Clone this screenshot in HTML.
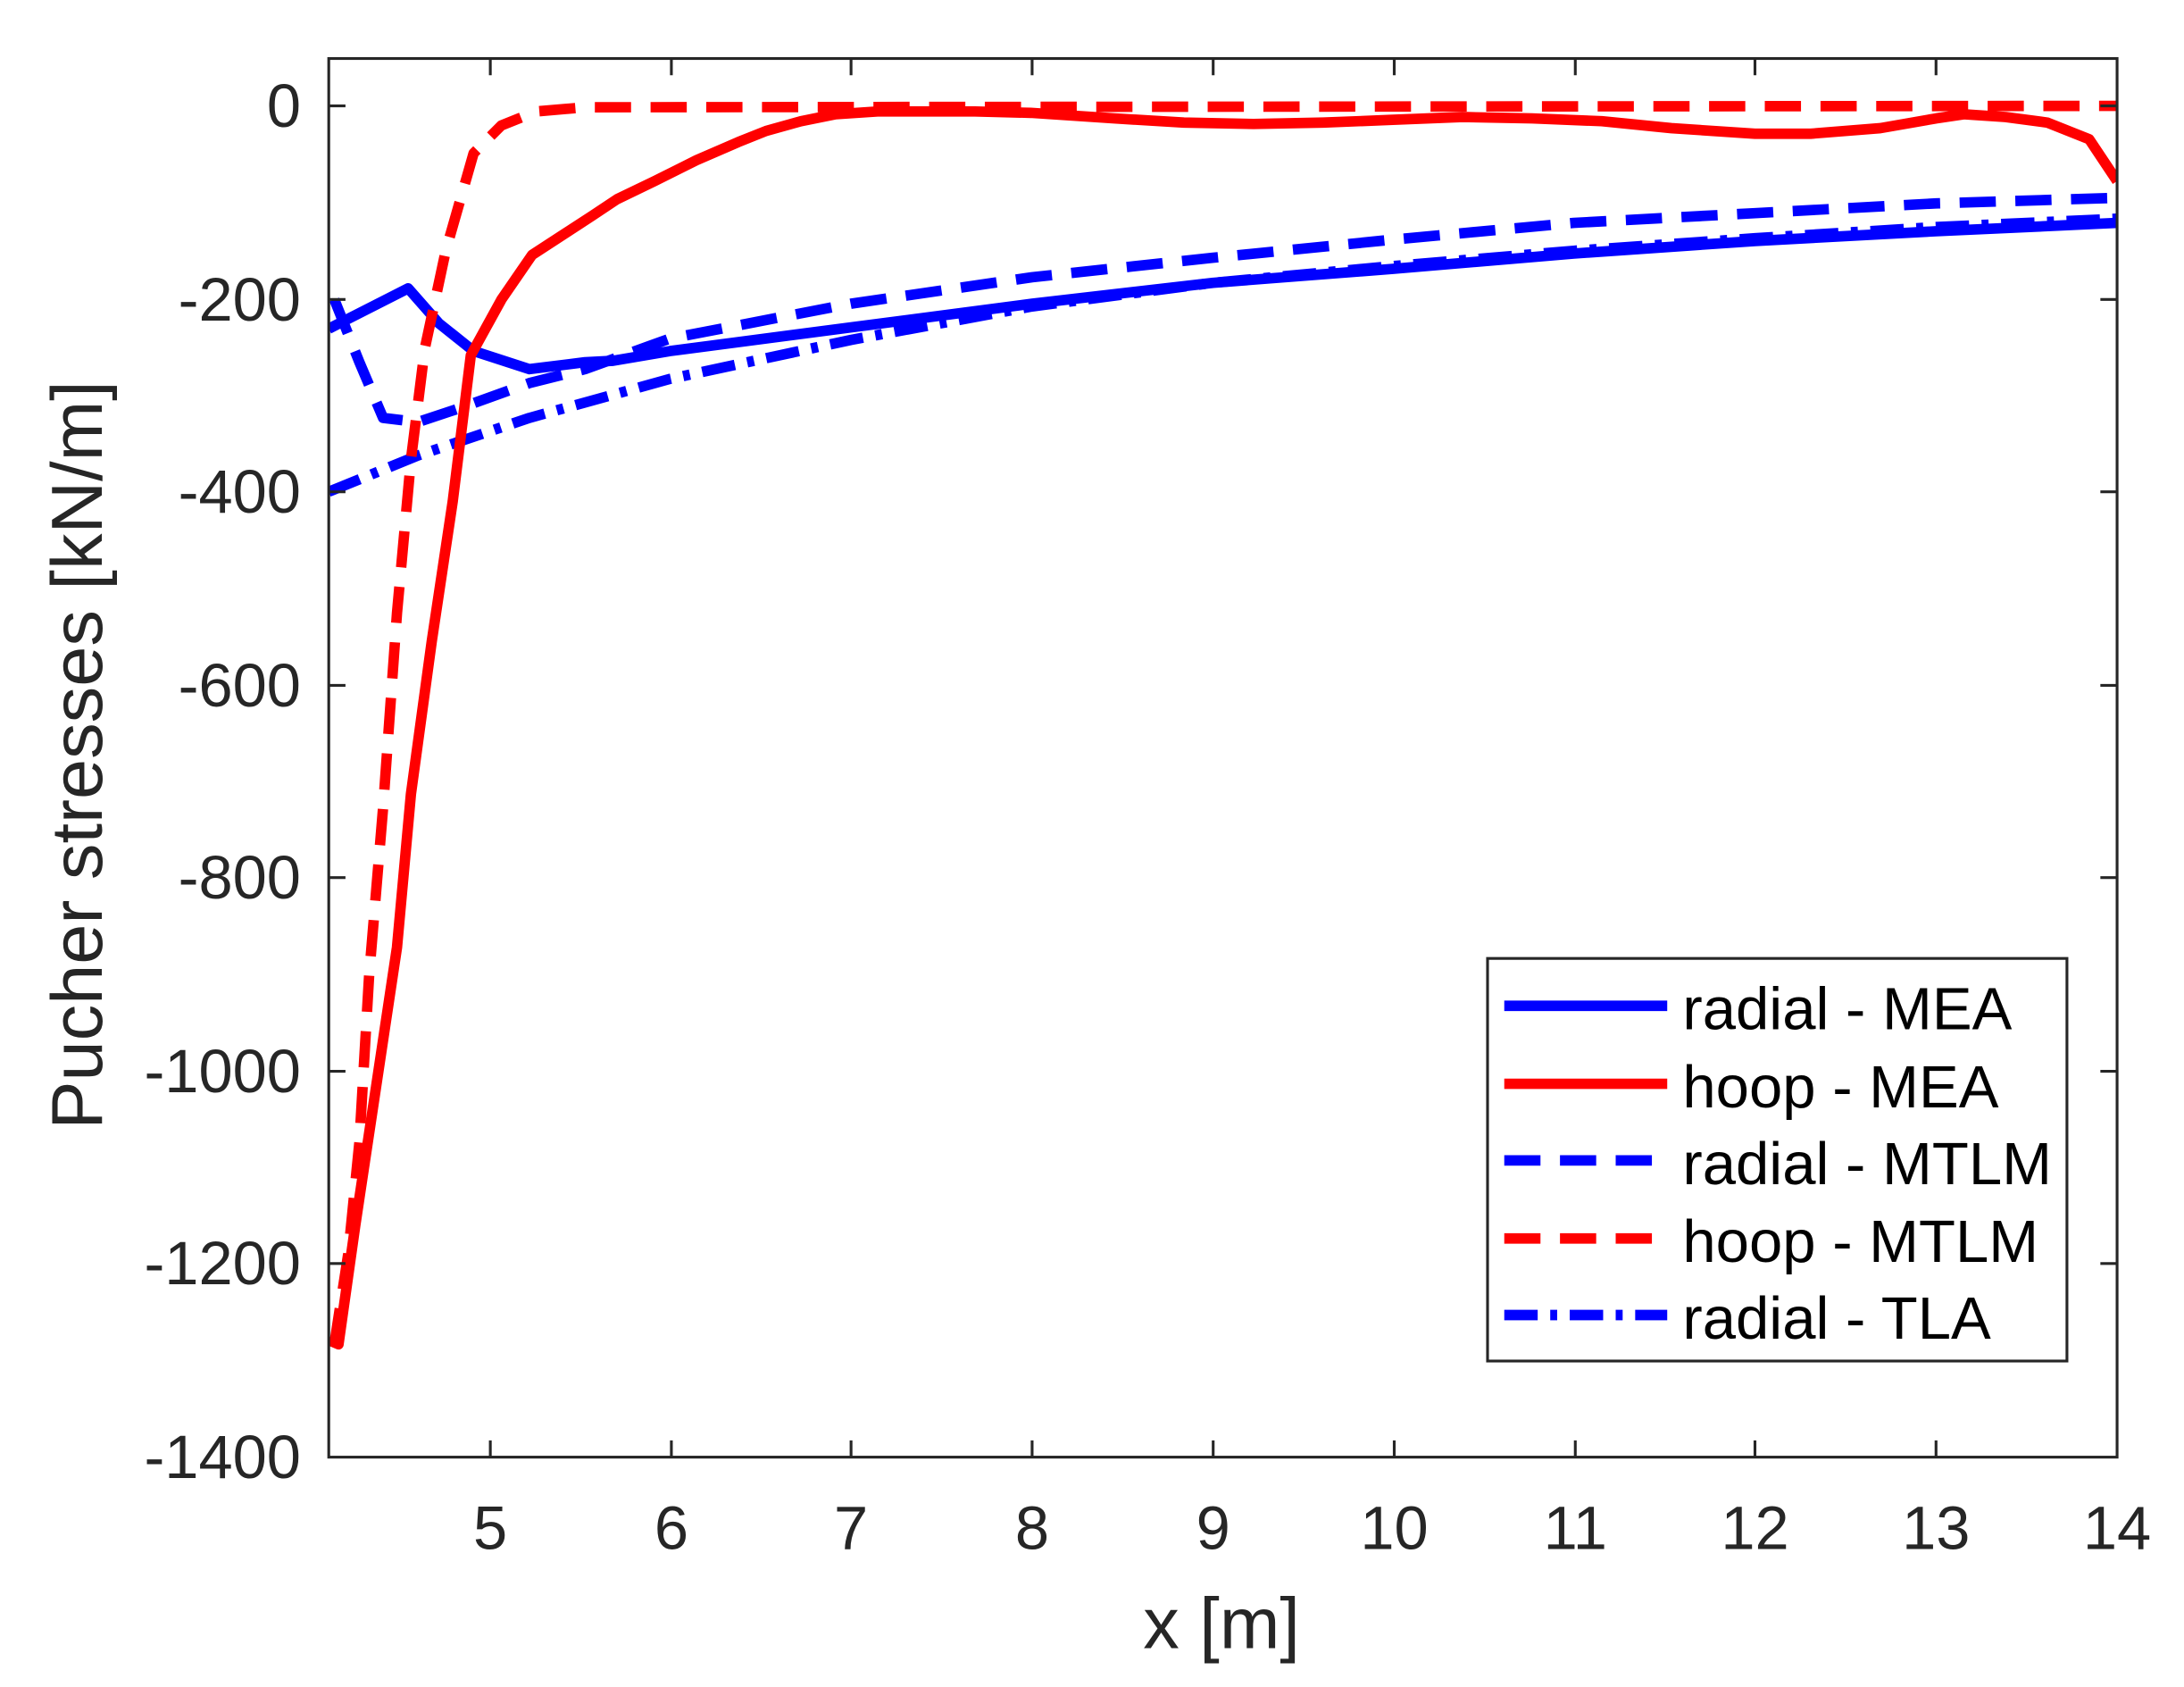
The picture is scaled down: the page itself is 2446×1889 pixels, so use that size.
<!DOCTYPE html>
<html><head><style>html,body{margin:0;padding:0;background:#fff}svg{display:block}</style></head>
<body>
<svg width="2446" height="1889" viewBox="0 0 1568 1211" xmlns="http://www.w3.org/2000/svg" font-family="Liberation Sans, sans-serif" fill="#262626">
<rect width="1568" height="1211" fill="#fff"/>
<defs><clipPath id="c"><rect x="236" y="42" width="1284" height="1004"/></clipPath></defs>
<g clip-path="url(#c)" fill="none" stroke-width="7.5" stroke-linejoin="round">
<polyline stroke="#0000ff" stroke-dasharray="24 9 5 9" points="236,353 300,327 380,300 481,272 611,244 741,220 871,203 1000,191 1130,180 1260,171 1390,163 1520,157"/>
<polyline stroke="#0000ff" stroke-dasharray="26 14" points="240,215 258,260 275,300 300,303 330,293 380,275 420,265 481,243 611,218 741,199 871,185 1000,172 1130,160 1260,153 1390,146 1520,142"/>
<polyline stroke="#0000ff" points="236,236 293,207 315,232 340,252 380,265 420,260 440,259 481,252 611,235 741,218 871,203 1000,193 1130,182 1260,173 1390,166 1520,160"/>
<polyline stroke="#ff0000" stroke-dasharray="26 14" points="240,965 250,900 258,820 265,700 275,580 285,440 295,330 305,250 320,180 340,110 360,90 385,80 420,77 1520,76"/>
<polyline stroke="#ff0000" points="236,962 243,965 255,880 270,780 285,680 295,570 310,460 325,360 338,255 360,215 382,183 405,168 425,155 443,143 470,130 500,115 530,102 550,94 575,87 600,82 630,80 700,80 740,81 800,85 850,88 900,89 950,88 1000,86 1050,84 1100,85 1150,87 1200,92 1260,96 1300,96 1350,92 1390,85 1410,82 1440,84 1470,88 1500,100 1520,130"/>
</g>
<g stroke="#262626" stroke-width="2" fill="none">
<rect x="236" y="42" width="1284" height="1004"/>
<path d="M352,1046v-12M482,1046v-12M611,1046v-12M741,1046v-12M871,1046v-12M1001,1046v-12M1131,1046v-12M1260,1046v-12M1390,1046v-12
M352,42v12M482,42v12M611,42v12M741,42v12M871,42v12M1001,42v12M1131,42v12M1260,42v12M1390,42v12
M236,76h12M236,215h12M236,353h12M236,492h12M236,630h12M236,769h12M236,907h12
M1520,76h-12M1520,215h-12M1520,353h-12M1520,492h-12M1520,630h-12M1520,769h-12M1520,907h-12"/>
</g>
<g font-size="44" text-anchor="end">
<text x="216" y="91">0</text><text x="216" y="230">-200</text><text x="216" y="368">-400</text><text x="216" y="507">-600</text><text x="216" y="645">-800</text><text x="216" y="784">-1000</text><text x="216" y="922">-1200</text><text x="216" y="1061">-1400</text>
</g>
<g font-size="44" text-anchor="middle">
<text x="352" y="1112">5</text><text x="482" y="1112">6</text><text x="611" y="1112">7</text><text x="741" y="1112">8</text><text x="871" y="1112">9</text><text x="1001" y="1112">10</text><text x="1131" y="1112">11</text><text x="1260" y="1112">12</text><text x="1390" y="1112">13</text><text x="1520" y="1112">14</text>
<text x="877" y="1183" font-size="52">x [m]</text>
<text transform="translate(73,542) rotate(-90)" font-size="52">Pucher stresses [kN/m]</text>
</g>
<rect x="1068" y="688" width="416" height="289" fill="#fff" stroke="#262626" stroke-width="2"/>
<g fill="none" stroke-width="7.5">
<line x1="1080" y1="722" x2="1197" y2="722" stroke="#0000ff"/>
<line x1="1080" y1="778" x2="1197" y2="778" stroke="#ff0000"/>
<line x1="1080" y1="833" x2="1197" y2="833" stroke="#0000ff" stroke-dasharray="26 14"/>
<line x1="1080" y1="889" x2="1197" y2="889" stroke="#ff0000" stroke-dasharray="26 14"/>
<line x1="1080" y1="944" x2="1197" y2="944" stroke="#0000ff" stroke-dasharray="24 9 5 9"/>
</g>
<g font-size="43" fill="#000">
<text x="1208" y="739">radial - MEA</text>
<text x="1208" y="795">hoop - MEA</text>
<text x="1208" y="850">radial - MTLM</text>
<text x="1208" y="906">hoop - MTLM</text>
<text x="1208" y="961">radial - TLA</text>
</g>
</svg>
</body></html>
